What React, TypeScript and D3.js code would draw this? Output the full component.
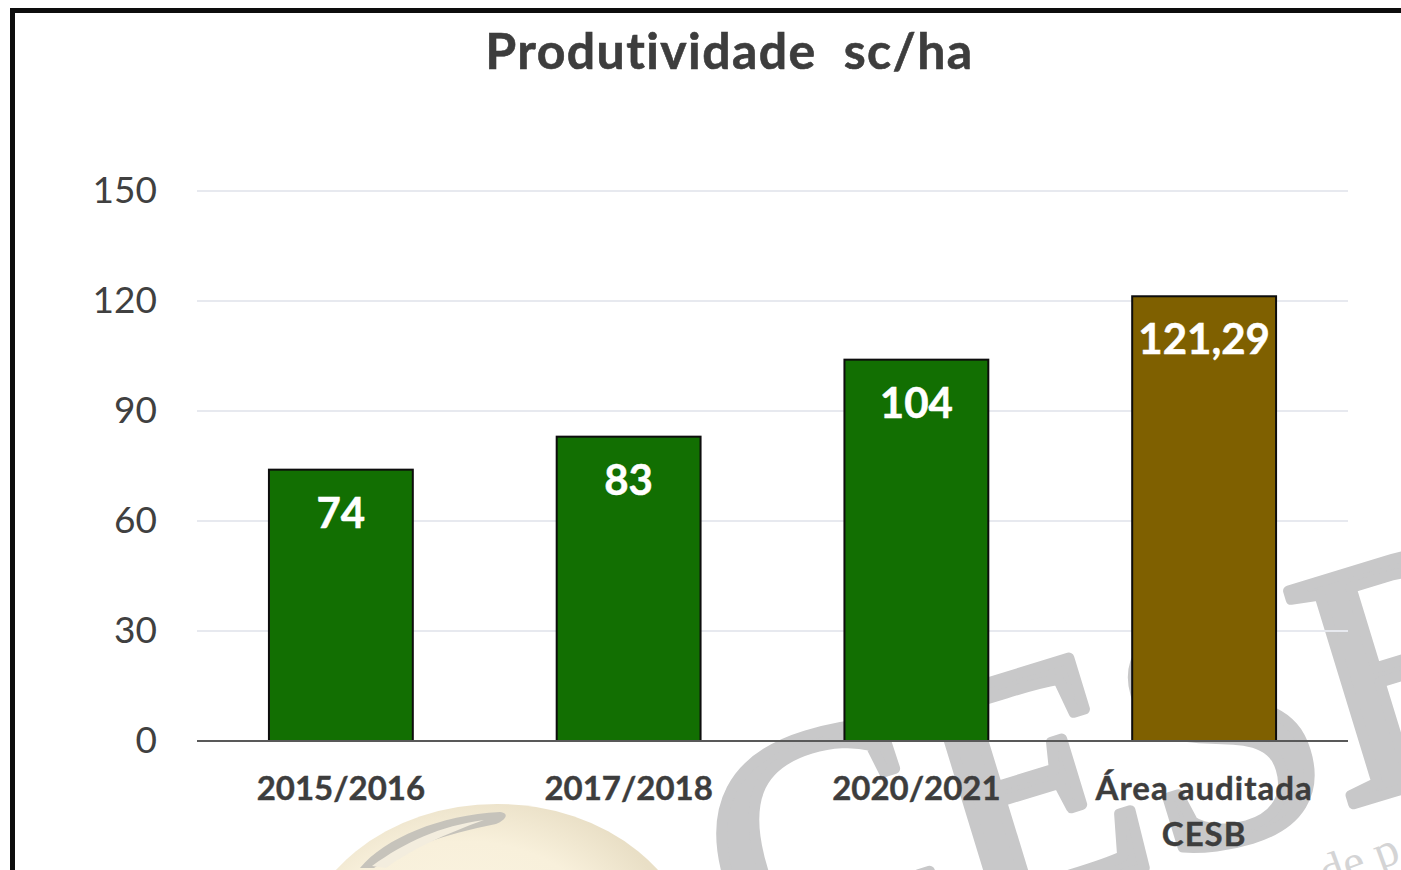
import React, { useEffect, useRef } from 'react';
import * as d3 from 'd3';

const categories = ['2015/2016', '2017/2018', '2020/2021', 'Área auditada|CESB'];
const values = [74, 83, 104, 121.29];
const valueLabels = ['74', '83', '104', '121,29'];
const barColors = ['#126f02', '#126f02', '#126f02', '#7f6000'];
const yTicks = [0, 30, 60, 90, 120, 150];
const chartTitle = 'Produtividade  sc/ha';

const FONT = 'Lato, "Open Sans", sans-serif';

const App = () => {
  const ref = useRef<SVGSVGElement | null>(null);

  useEffect(() => {
    const svg = d3.select(ref.current);
    svg.selectAll('*').remove();
    svg.style('font-variant-ligatures', 'none');

    const margin = { left: 197, right: 53, top: 191, bottom: 129 };
    const W = 1401;
    const H = 870;

    const x = d3.scaleBand().domain(categories).range([margin.left, W - margin.right])
      .paddingInner(0.5).paddingOuter(0.25);
    const y = d3.scaleLinear().domain([0, 150]).range([H - margin.bottom, margin.top]);

    // fundo
    svg.append('rect').attr('width', W).attr('height', H).attr('fill', '#fff');

    // soja e marca d'agua
    const defs = svg.append('defs');
    const grad = defs.append('radialGradient').attr('id', 'soja').attr('cx', '0.42').attr('cy', '0.5').attr('r', '0.55');
    grad.append('stop').attr('offset', '0%').attr('stop-color', '#fbf5e3');
    grad.append('stop').attr('offset', '70%').attr('stop-color', '#f8f0db');
    grad.append('stop').attr('offset', '100%').attr('stop-color', '#e9dfc6');

    svg.append('ellipse')
      .attr('cx', 497).attr('cy', 966).attr('rx', 200).attr('ry', 162)
      .attr('fill', 'url(#soja)');
    svg.append('path')
      .attr('d', 'M360 868 C385 838 440 815 500 812 C510 813 506 820 496 824 C445 834 400 850 374 868 Z')
      .attr('fill', '#c6c3bb');
    svg.append('path')
      .attr('d', 'M372 866 C405 842 440 826 484 820 C445 834 410 850 386 868 Z')
      .attr('fill', '#f3edde');

    svg.append('text')
      .attr('transform', 'translate(748,989) rotate(-17)')
      .attr('font-family', '"Liberation Serif", serif')
      .attr('font-size', 340)
      .attr('fill', '#c8c8c9')
      .attr('stroke', '#c8c8c9')
      .attr('stroke-width', 11)
      .attr('stroke-linejoin', 'round')
      .text('CESB');
    svg.append('text')
      .attr('transform', 'translate(1326,889) rotate(-20)')
      .attr('font-family', '"Liberation Serif", serif')
      .attr('font-size', 48)
      .attr('fill', '#d4d4d5')
      .text('de p');

    // moldura
    svg.append('rect')
      .attr('x', 12.5).attr('y', 10.5).attr('width', W + 20).attr('height', H + 20)
      .attr('fill', 'none').attr('stroke', '#0d0d0d').attr('stroke-width', 5);

    // titulo
    svg.append('text')
      .attr('x', 729.5).attr('y', 69)
      .attr('text-anchor', 'middle')
      .attr('font-family', FONT).attr('font-size', 50).attr('font-weight', 700)
      .attr('letter-spacing', 1.4)
      .attr('fill', '#3d3d3d')
      .attr('stroke', '#3d3d3d').attr('stroke-width', 0.6)
      .style('white-space', 'pre')
      .text(chartTitle);

    // grade
    svg.append('g').selectAll('line')
      .data(yTicks.filter(d => d > 0))
      .enter().append('line')
      .attr('x1', margin.left).attr('x2', W - margin.right)
      .attr('y1', d => y(d)).attr('y2', d => y(d))
      .attr('stroke', '#e7e9ef').attr('stroke-width', 2);

    // eixo y
    const yAxis = svg.append('g')
      .attr('transform', `translate(${margin.left},0)`)
      .call(d3.axisLeft(y).tickValues(yTicks).tickSize(0).tickPadding(40));
    yAxis.select('.domain').remove();
    yAxis.selectAll('text')
      .attr('font-family', FONT).attr('font-size', 37).attr('fill', '#404040');

    // barras
    svg.append('g').selectAll('rect')
      .data(values)
      .enter().append('rect')
      .attr('x', (d, i) => x(categories[i])!)
      .attr('y', d => y(d))
      .attr('width', x.bandwidth())
      .attr('height', d => y(0) - y(d))
      .attr('fill', (d, i) => barColors[i])
      .attr('stroke', '#0d0d0d').attr('stroke-width', 2);

    // rotulos
    svg.append('g').selectAll('text')
      .data(values)
      .enter().append('text')
      .attr('x', (d, i) => x(categories[i])! + x.bandwidth() / 2)
      .attr('y', d => y(d) + 58)
      .attr('text-anchor', 'middle')
      .attr('font-family', FONT).attr('font-size', 42).attr('font-weight', 700)
      .attr('fill', '#fff')
      .attr('stroke', '#fff').attr('stroke-width', 0.5)
      .text((d, i) => valueLabels[i]);

    // eixo x
    svg.append('line')
      .attr('x1', margin.left).attr('x2', W - margin.right)
      .attr('y1', y(0)).attr('y2', y(0))
      .attr('stroke', '#595959').attr('stroke-width', 2);

    const xLabels = svg.append('g').selectAll('text')
      .data(categories)
      .enter().append('text')
      .attr('x', d => x(d)! + x.bandwidth() / 2)
      .attr('y', 800)
      .attr('text-anchor', 'middle')
      .attr('font-family', FONT).attr('font-size', 33).attr('font-weight', 700)
      .attr('fill', '#3d3d3d')
      .attr('stroke', '#3d3d3d').attr('stroke-width', 0.4);
    xLabels.each(function (d) {
      const el = d3.select(this);
      d.split('|').forEach((part, i) => {
        el.append('tspan')
          .attr('x', x(d)! + x.bandwidth() / 2)
          .attr('dy', i === 0 ? 0 : 46)
          .attr('letter-spacing', d.includes('|') ? 1 : 0)
          .text(part);
      });
    });
  }, []);

  return (
    <svg
      ref={ref}
      width={1401}
      height={870}
      style={{ position: 'absolute', left: 0, top: 0, display: 'block' }}
    />
  );
};

export default App;
